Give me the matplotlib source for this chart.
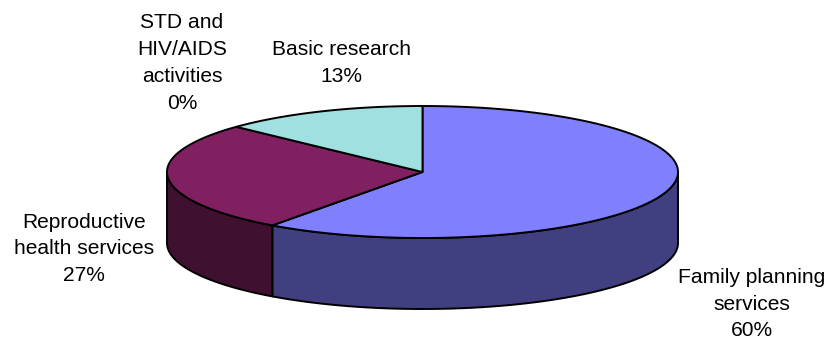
import numpy as np
import matplotlib
matplotlib.use("Agg")
import matplotlib.pyplot as plt
from matplotlib.patches import Polygon

# spending shares by category (percent), clockwise from 12 o'clock
categories = ["Family planning\nservices", "Reproductive\nhealth services",
              "STD and\nHIV/AIDS\nactivities", "Basic research"]
shares = [60, 27, 0, 13]

TOP_COLORS = ["#8080FF", "#802060", "#FFFFC0", "#A0E0E0"]
SIDE_COLORS = ["#404080", "#401030", "#808060", "#507070"]

# label anchor points (pixels, centre of text block)
LABEL_XY = [(752, 304), (84, 249), (182, 63), (341, 63)]

W, H = 831, 339
CX, CY = 422.5, 172.0     # centre of top face
RX, RY = 255.5, 66.0      # ellipse radii
DEPTH = 71.0              # wall height

plt.rcParams["font.family"] = ["Liberation Sans", "DejaVu Sans"]

fig = plt.figure(figsize=(W / 100, H / 100), dpi=100)
ax = fig.add_axes([0, 0, 1, 1])
ax.set_xlim(0, W)
ax.set_ylim(H, 0)
ax.axis("off")


def rim(theta_deg):
    t = np.radians(theta_deg)
    return CX + RX * np.sin(t), CY - RY * np.cos(t)


fr = np.array(shares, dtype=float) / sum(shares)
edges = np.concatenate([[0.0], np.cumsum(fr) * 360.0])

# outer walls: only the front half (90..270 deg) faces the viewer
for i in range(len(shares)):
    lo, hi = max(edges[i], 90.0), min(edges[i + 1], 270.0)
    if hi <= lo:
        continue
    th = np.linspace(lo, hi, 200)
    xs, ys = rim(th)
    pts = np.column_stack([np.r_[xs, xs[::-1]], np.r_[ys, ys[::-1] + DEPTH]])
    ax.add_patch(Polygon(pts, closed=True, facecolor=SIDE_COLORS[i],
                         edgecolor="black", lw=1.4, joinstyle="round", zorder=2))

# top face wedges
for i in range(len(shares)):
    if edges[i + 1] - edges[i] <= 0:
        continue
    th = np.linspace(edges[i], edges[i + 1], 400)
    xs, ys = rim(th)
    pts = np.column_stack([np.r_[CX, xs], np.r_[CY, ys]])
    ax.add_patch(Polygon(pts, closed=True, facecolor=TOP_COLORS[i],
                         edgecolor="black", lw=1.4, joinstyle="round", zorder=3))

for name, val, (lx, ly) in zip(categories, shares, LABEL_XY):
    ax.text(lx, ly, f"{name}\n{val}%", ha="center", va="center",
            fontsize=15.1, linespacing=1.52, color="black", zorder=5)

fig.savefig("out.png", dpi=100, facecolor="white")
